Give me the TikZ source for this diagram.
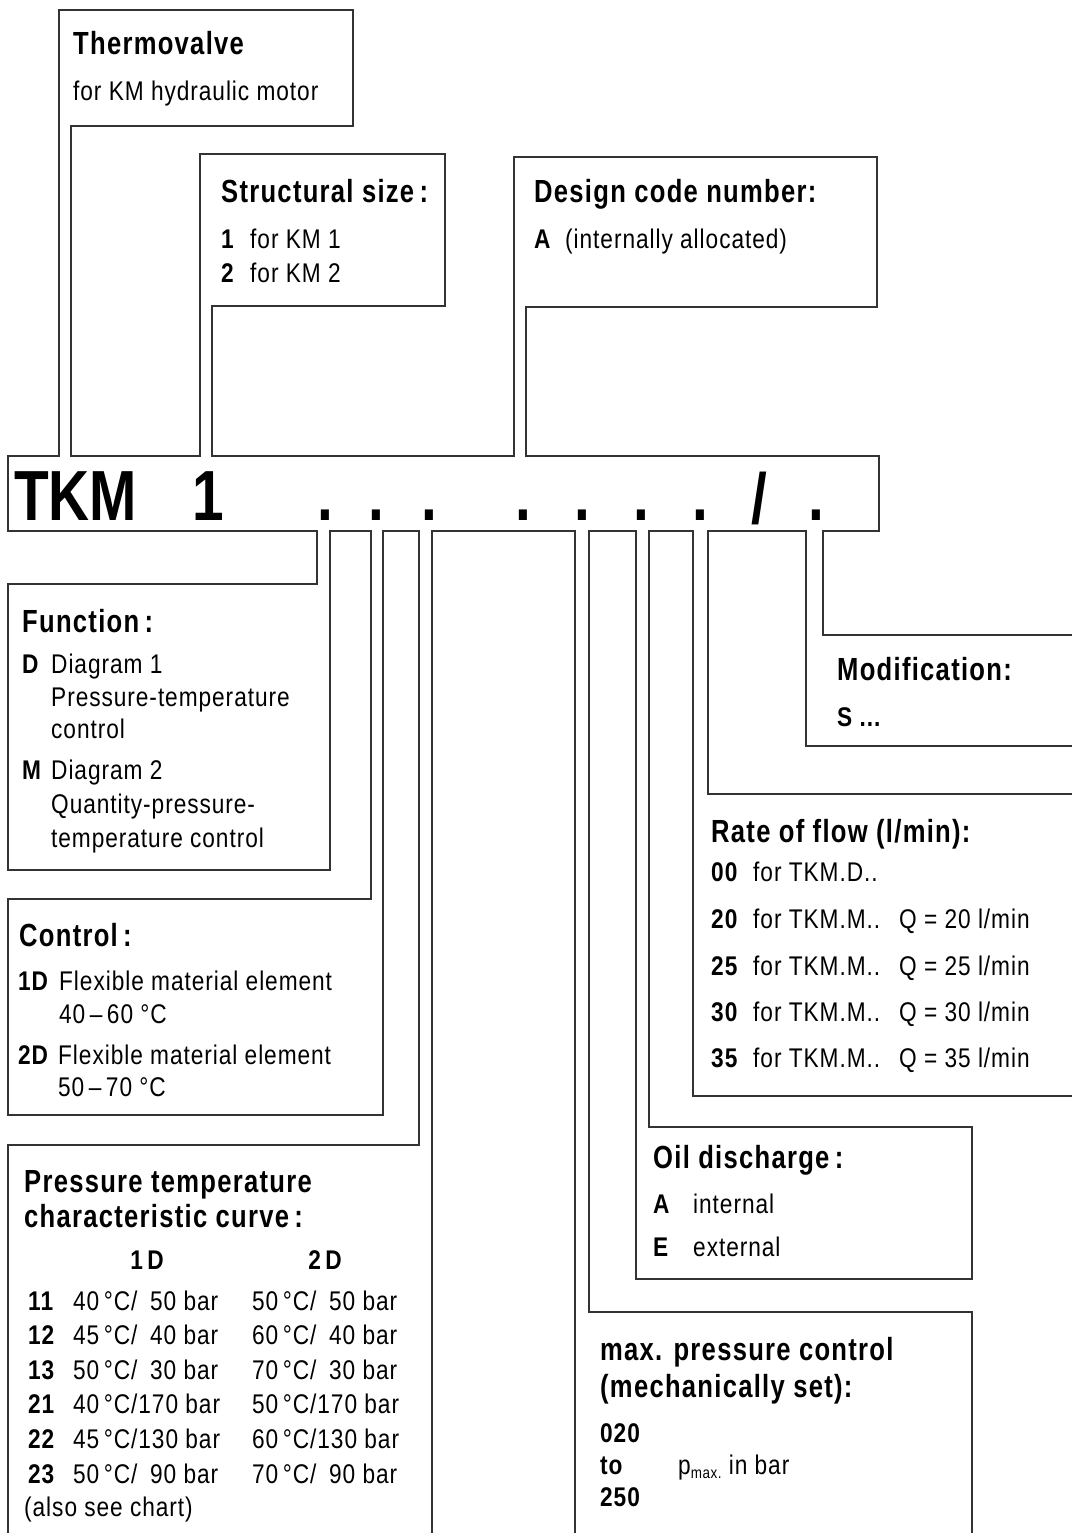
\documentclass[tikz,border=0pt]{standalone}
\usepackage{fontspec}
\setmainfont{Liberation Sans}
\newfontfamily\bodyfont{Liberation Sans}[FakeStretch=0.84,LetterSpace=3.5]
\newfontfamily\headfont{Liberation Sans}[FakeStretch=0.8,LetterSpace=4]
\newfontfamily\bigfont{Liberation Sans}[FakeStretch=0.8]
\tikzset{
  outline/.style={line width=1.4pt, draw=black!80, line join=miter},
  hd/.style={anchor=base west, inner sep=0pt, font=\headfont\bfseries\fontsize{32}{32}\selectfont},
  tx/.style={anchor=base west, inner sep=0pt, font=\bodyfont\fontsize{27}{27}\selectfont},
  bx/.style={anchor=base west, inner sep=0pt, font=\bodyfont\bfseries\fontsize{27}{27}\selectfont},
  tb/.style={anchor=base west, inner sep=0pt, font=\bodyfont\fontsize{27}{27}\selectfont},
  tbb/.style={anchor=base west, inner sep=0pt, font=\bodyfont\bfseries\fontsize{27}{27}\selectfont},
  big/.style={anchor=base west, inner sep=0pt, font=\bigfont\bfseries\fontsize{71}{71}\selectfont},
  bigc/.style={big, anchor=base},
}
\begin{document}
\begin{tikzpicture}[x=1pt,y=-1pt]
\useasboundingbox (0,0) rectangle (1071,1533);
% outlines
\draw[outline] (1075,635) -- (823,635) -- (823,531) -- (879,531) -- (879,456) -- (526,456) -- (526,307) -- (877,307) -- (877,157) -- (514,157) -- (514,456) -- (212,456) -- (212,306) -- (445,306) -- (445,154) -- (200,154) -- (200,456) -- (71,456) -- (71,126) -- (353,126) -- (353,10) -- (59,10) -- (59,456) -- (8,456) -- (8,531) -- (317,531) -- (317,584) -- (8,584) -- (8,870) -- (330,870) -- (330,531) -- (371,531) -- (371,899) -- (8,899) -- (8,1115) -- (383,1115) -- (383,531) -- (419,531) -- (419,1145) -- (8,1145) -- (8,1537);
\draw[outline] (432,1537) -- (432,531) -- (575,531) -- (575,1537);
\draw[outline] (972,1537) -- (972,1312) -- (589,1312) -- (589,531) -- (636,531) -- (636,1279) -- (972,1279) -- (972,1127) -- (649,1127) -- (649,531) -- (693,531) -- (693,1096) -- (1075,1096);
\draw[outline] (1075,794) -- (708,794) -- (708,531) -- (806,531) -- (806,746) -- (1075,746);

% main code bar
\node[big] (tkm) at (14,520) {TKM};
\node[bigc] (one) at (208,520) {1};
\node[bigc] (d1) at (325,520) {.};
\node[bigc] (d2) at (376,520) {.};
\node[bigc] (d3) at (429,520) {.};
\node[bigc] (d4) at (523,520) {.};
\node[bigc] (d5) at (582,520) {.};
\node[bigc] (d6) at (641,520) {.};
\node[bigc] (d7) at (700,520) {.};
\node[bigc] (sl) at (759,523) {/};
\node[bigc] (d8) at (816,520) {.};

% Thermovalve
\node[hd] (th) at (73,55) {Thermovalve};
\node[tx] (th1) at (73,101) {for KM hydraulic motor};

% Structural size
\node[hd] (ss) at (221,202) {Structural size\,:};
\node[bx] (ss1a) at (221,248) {1};
\node[tx] (ss1b) at (250,248) {for KM 1};
\node[bx] (ss2a) at (221,282) {2};
\node[tx] (ss2b) at (250,282) {for KM 2};

% Design code
\node[hd] (dc) at (534,202) {Design code number:};
\node[bx] (dca) at (534,248) {A};
\node[tx] (dcb) at (565,248) {(internally allocated)};

% Function
\node[hd] (fn) at (22,632) {Function\,:};
\node[bx] (fnD) at (22,673) {D};
\node[tx] (fnD1) at (51,673) {Diagram 1};
\node[tx] (fnD2) at (51,706) {Pressure-temperature};
\node[tx] (fnD3) at (51,738) {control};
\node[bx] (fnM) at (22,779) {M};
\node[tx] (fnM1) at (51,779) {Diagram 2};
\node[tx] (fnM2) at (51,813) {Quantity-pressure-};
\node[tx] (fnM3) at (51,847) {temperature control};

% Control
\node[hd] (ct) at (19,946) {Control\,:};
\node[bx] (ct1) at (18,990) {1D};
\node[tx] (ct1a) at (59,990) {Flexible material element};
\node[tx] (ct1b) at (59,1023) {40\,–\,60 °C};
\node[bx] (ct2) at (18,1064) {2D};
\node[tx] (ct2a) at (58,1064) {Flexible material element};
\node[tx] (ct2b) at (58,1096) {50\,–\,70 °C};

% Pressure temperature characteristic curve
\node[hd] (pt1) at (24,1192) {Pressure temperature};
\node[hd] (pt2) at (24,1227) {characteristic curve\,:};
\node[tbb, anchor=base] (h1) at (147,1269) {1\,D};
\node[tbb, anchor=base] (h2) at (325,1269) {2\,D};
\node[tbb] (r1n) at (28,1310) {11};
\node[tb] (r1a) at (73,1310) {40\,°C/\phantom{1}50 bar};
\node[tb] (r1b) at (252,1310) {50\,°C/\phantom{1}50 bar};
\node[tbb] (r2n) at (28,1344.6) {12};
\node[tb] (r2a) at (73,1344.6) {45\,°C/\phantom{1}40 bar};
\node[tb] (r2b) at (252,1344.6) {60\,°C/\phantom{1}40 bar};
\node[tbb] (r3n) at (28,1379.2) {13};
\node[tb] (r3a) at (73,1379.2) {50\,°C/\phantom{1}30 bar};
\node[tb] (r3b) at (252,1379.2) {70\,°C/\phantom{1}30 bar};
\node[tbb] (r4n) at (28,1413.8) {21};
\node[tb] (r4a) at (73,1413.8) {40\,°C/170 bar};
\node[tb] (r4b) at (252,1413.8) {50\,°C/170 bar};
\node[tbb] (r5n) at (28,1448.4) {22};
\node[tb] (r5a) at (73,1448.4) {45\,°C/130 bar};
\node[tb] (r5b) at (252,1448.4) {60\,°C/130 bar};
\node[tbb] (r6n) at (28,1483) {23};
\node[tb] (r6a) at (73,1483) {50\,°C/\phantom{1}90 bar};
\node[tb] (r6b) at (252,1483) {70\,°C/\phantom{1}90 bar};
\node[tb] (see) at (24,1516) {(also see chart)};

% Modification
\node[hd] (mo) at (837,680) {Modification:};
\node[bx] (mo1) at (837,726) {S ...};

% Rate of flow
\node[hd] (rf) at (711,842) {Rate of flow (l/min):};
\node[bx] (rf0) at (711,881) {00};
\node[tx] (rf0a) at (753,881) {for TKM.D..};
\node[bx] (rf1) at (711,928) {20};
\node[tx] (rf1a) at (753,928) {for TKM.M..};
\node[tx] (rf1b) at (899,928) {Q = 20 l/min};
\node[bx] (rf2) at (711,975) {25};
\node[tx] (rf2a) at (753,975) {for TKM.M..};
\node[tx] (rf2b) at (899,975) {Q = 25 l/min};
\node[bx] (rf3) at (711,1021) {30};
\node[tx] (rf3a) at (753,1021) {for TKM.M..};
\node[tx] (rf3b) at (899,1021) {Q = 30 l/min};
\node[bx] (rf4) at (711,1067) {35};
\node[tx] (rf4a) at (753,1067) {for TKM.M..};
\node[tx] (rf4b) at (899,1067) {Q = 35 l/min};

% Oil discharge
\node[hd] (od) at (653,1168) {Oil discharge\,:};
\node[bx] (odA) at (653,1213) {A};
\node[tx] (odA1) at (693,1213) {internal};
\node[bx] (odE) at (653,1256) {E};
\node[tx] (odE1) at (693,1256) {external};

% max pressure control
\node[hd] (mp1) at (600,1360) {max. pressure control};
\node[hd] (mp2) at (600,1397) {(mechanically set):};
\node[bx] (mpa) at (600,1442) {020};
\node[bx] (mpb) at (600,1474) {to};
\node[tx] (mpp) at (678,1474) {p\raisebox{-4pt}{\fontsize{16}{16}\selectfont max.} in bar};
\node[bx] (mpc) at (600,1506) {250};
\end{tikzpicture}
\end{document}
